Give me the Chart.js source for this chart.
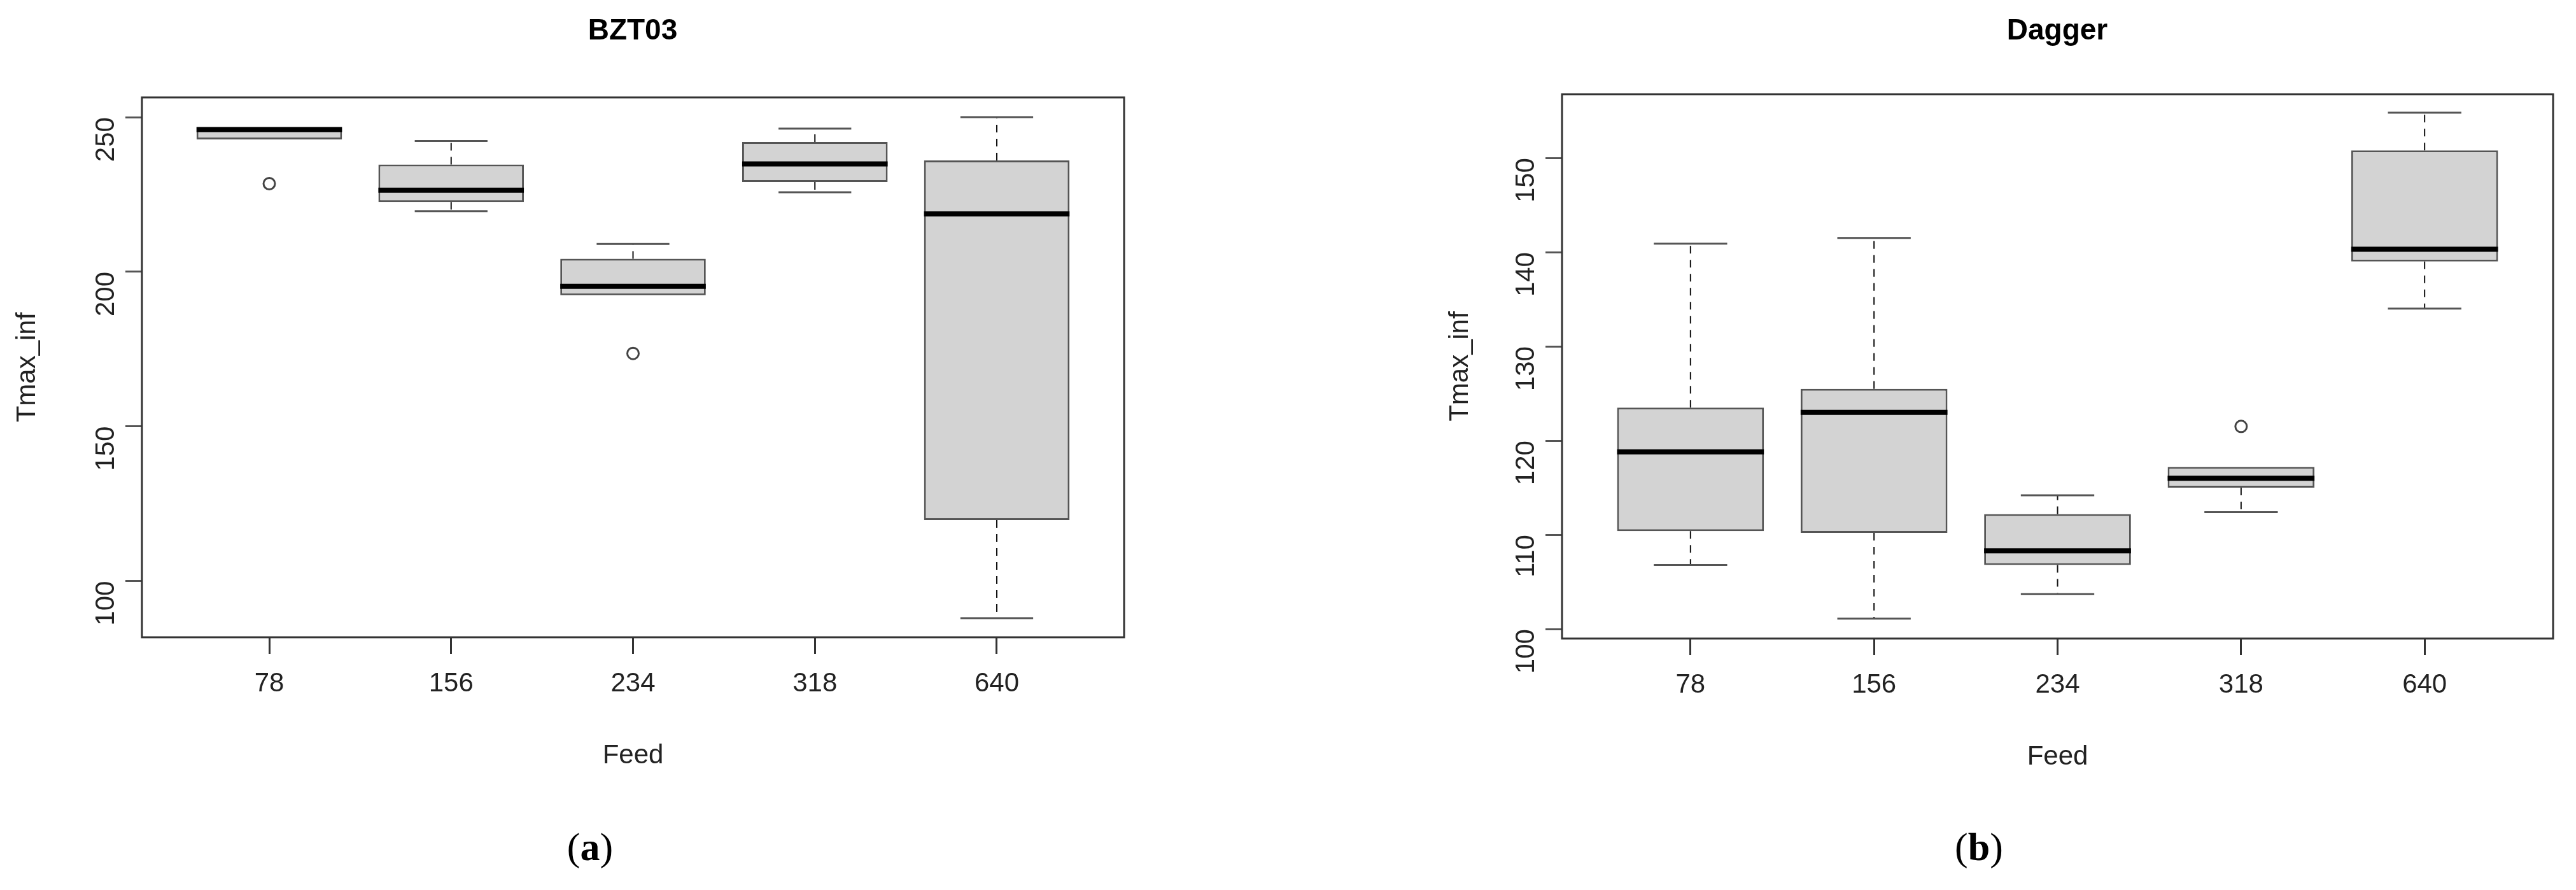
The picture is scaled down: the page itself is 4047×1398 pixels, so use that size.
<!DOCTYPE html>
<html>
<head>
<meta charset="utf-8">
<script src="https://cdn.jsdelivr.net/npm/chart.js@4.4.0/dist/chart.umd.min.js"></script>
<style>
  body { margin: 0; background: #fff; width: 4047px; height: 1398px; position: relative; overflow: hidden; }
  canvas { position: absolute; top: 0; }
  .ttl { position: absolute; font-family: "Liberation Sans", Arial, sans-serif; font-weight: bold; font-size: 46px; transform: translate(-50%, -50%); }
  .lab { position: absolute; font-family: "Liberation Serif", "Times New Roman", serif; font-size: 62px; transform: translate(-50%, -50%); }
</style>
</head>
<body>
<canvas id="chartA" width="2024" height="1398" style="left:0"></canvas>
<canvas id="chartB" width="2023" height="1398" style="left:2024px"></canvas>
<div class="ttl" style="left:994px;top:46px">BZT03</div>
<div class="ttl" style="left:3232px;top:46px">Dagger</div>
<div class="lab" style="left:927px;top:1330px">(<b>a</b>)</div>
<div class="lab" style="left:3109px;top:1330px">(<b>b</b>)</div>
<script>
var feeds = ["78", "156", "234", "318", "640"];

// BZT03: [lower whisker, q1, median, q3, upper whisker]
var bztLow = [242.8, 219.6, 192.4, 225.7, 88];
var bztQ1 = [242.8, 222.6, 192.4, 229, 119.7];
var bztMed = [246, 226.4, 195.3, 234.9, 218.7];
var bztQ3 = [246.7, 234.7, 204.2, 242, 236];
var bztHigh = [246.7, 242.3, 209, 246.3, 250];
var bztOutX = [1, 3];
var bztOutY = [228.5, 173.6];
var bztTicks = [100, 150, 200, 250];

var dagLow = [106.8, 101.1, 103.7, 112.4, 134];
var dagQ1 = [110.4, 110.2, 106.8, 115, 139];
var dagMed = [118.8, 123, 108.3, 116, 140.3];
var dagQ3 = [123.5, 125.5, 112.2, 117.2, 150.8];
var dagHigh = [140.9, 141.5, 114.2, 117.2, 154.8];
var dagOutX = [4];
var dagOutY = [121.5];
var dagTicks = [100, 110, 120, 130, 140, 150];

var FONT = "'Liberation Sans', Arial, sans-serif";

var boxPlugin = {
  id: "boxExtras",
  afterDatasetsDraw: function(chart) {
    var st = chart.options.plugins.boxExtras;
    var xs = chart.scales.x, ys = chart.scales.y, ctx = chart.ctx;
    var step = xs.getPixelForValue(2) - xs.getPixelForValue(1);
    ctx.save();
    for (var i = 0; i < st.med.length; i++) {
      var cx = xs.getPixelForValue(i + 1);
      var half = step * 0.4, cap = step * 0.2;
      // whiskers
      ctx.strokeStyle = "#111";
      ctx.lineWidth = 2;
      ctx.setLineDash([12, 10]);
      ctx.beginPath();
      if (st.high[i] > st.q3[i]) {
        ctx.moveTo(cx, ys.getPixelForValue(st.q3[i]));
        ctx.lineTo(cx, ys.getPixelForValue(st.high[i]));
      }
      if (st.low[i] < st.q1[i]) {
        ctx.moveTo(cx, ys.getPixelForValue(st.q1[i]));
        ctx.lineTo(cx, ys.getPixelForValue(st.low[i]));
      }
      ctx.stroke();
      ctx.setLineDash([]);
      ctx.strokeStyle = "#555";
      ctx.lineWidth = 3;
      ctx.beginPath();
      if (st.high[i] > st.q3[i]) {
        ctx.moveTo(cx - cap, ys.getPixelForValue(st.high[i]));
        ctx.lineTo(cx + cap, ys.getPixelForValue(st.high[i]));
      }
      if (st.low[i] < st.q1[i]) {
        ctx.moveTo(cx - cap, ys.getPixelForValue(st.low[i]));
        ctx.lineTo(cx + cap, ys.getPixelForValue(st.low[i]));
      }
      ctx.stroke();
      // median
      ctx.strokeStyle = "#000";
      ctx.lineWidth = 8;
      ctx.beginPath();
      ctx.moveTo(cx - half, ys.getPixelForValue(st.med[i]));
      ctx.lineTo(cx + half, ys.getPixelForValue(st.med[i]));
      ctx.stroke();
    }
    // plot frame
    var a = chart.chartArea;
    ctx.strokeStyle = "#333";
    ctx.lineWidth = 3;
    ctx.strokeRect(a.left, a.top, a.right - a.left, a.bottom - a.top);
    ctx.restore();
  }
};

function makeChart(id, cfg) {
  var boxes = [], outs = [];
  for (var i = 0; i < cfg.q1.length; i++) boxes.push({ x: i + 1, y: [cfg.q1[i], cfg.q3[i]] });
  for (var j = 0; j < cfg.outX.length; j++) outs.push({ x: cfg.outX[j], y: cfg.outY[j] });
  return new Chart(document.getElementById(id), {
    type: "bar",
    data: {
      datasets: [
        {
          type: "bar",
          data: boxes,
          backgroundColor: "#d3d3d3",
          borderColor: "#555",
          borderWidth: 3,
          borderSkipped: false,
          barPercentage: 0.8,
          categoryPercentage: 1
        },
        {
          type: "scatter",
          data: outs,
          pointRadius: 9,
          pointBorderWidth: 3,
          pointBackgroundColor: "rgba(0,0,0,0)",
          pointBorderColor: "#444"
        }
      ]
    },
    options: {
      responsive: false,
      animation: false,
      layout: { padding: { top: cfg.top, left: cfg.padLeft, right: cfg.padRight, bottom: cfg.padBottom } },
      plugins: {
        legend: { display: false },
        tooltip: { enabled: false },
        boxExtras: { low: cfg.low, q1: cfg.q1, med: cfg.med, q3: cfg.q3, high: cfg.high }
      },
      scales: {
        x: {
          type: "linear",
          min: 0.3,
          max: 5.7,
          offset: false,
          afterBuildTicks: function(s) { s.ticks = feeds.map(function(f, k) { return { value: k + 1 }; }); },
          afterFit: function(s) { s.height = 230; },
          ticks: {
            callback: function(v) { return feeds[v - 1]; },
            font: { family: FONT, size: 42 },
            color: "#222",
            padding: 22,
            maxRotation: 0
          },
          grid: { offset: false, drawOnChartArea: false, drawTicks: true, tickLength: 26, tickWidth: 3, color: "#333" },
          border: { display: false },
          title: { display: true, text: "Feed", font: { family: FONT, size: 42 }, color: "#222", padding: { top: 0, bottom: 18 } }
        },
        y: {
          min: cfg.ymin,
          max: cfg.ymax,
          afterBuildTicks: function(s) { s.ticks = cfg.ticks.map(function(v) { return { value: v }; }); },
          afterFit: function(s) { s.width = cfg.yWidth; },
          ticks: {
            font: { family: FONT, size: 42 },
            color: "#222",
            minRotation: 90,
            maxRotation: 90,
            padding: 30
          },
          grid: { drawOnChartArea: false, drawTicks: true, tickLength: 26, tickWidth: 3, color: "#555" },
          border: { display: false },
          title: { display: true, text: "Tmax_inf", font: { family: FONT, size: 42 }, color: "#222", padding: { top: 0, bottom: 0 } }
        }
      }
    },
    plugins: [boxPlugin]
  });
}

makeChart("chartA", {
  low: bztLow, q1: bztQ1, med: bztMed, q3: bztQ3, high: bztHigh,
  outX: bztOutX, outY: bztOutY, ticks: bztTicks,
  ymin: 81.8, ymax: 256.4,
  top: 153, padLeft: 18, yWidth: 205, padRight: 2024 - 1766, padBottom: 1398 - 1001 - 230
});
makeChart("chartB", {
  low: dagLow, q1: dagQ1, med: dagMed, q3: dagQ3, high: dagHigh,
  outX: dagOutX, outY: dagOutY, ticks: dagTicks,
  ymin: 98.99, ymax: 156.76,
  top: 148, padLeft: 245, yWidth: 185, padRight: 2023 - (4011 - 2024), padBottom: 1398 - 1003 - 230
});
</script>
</body>
</html>
